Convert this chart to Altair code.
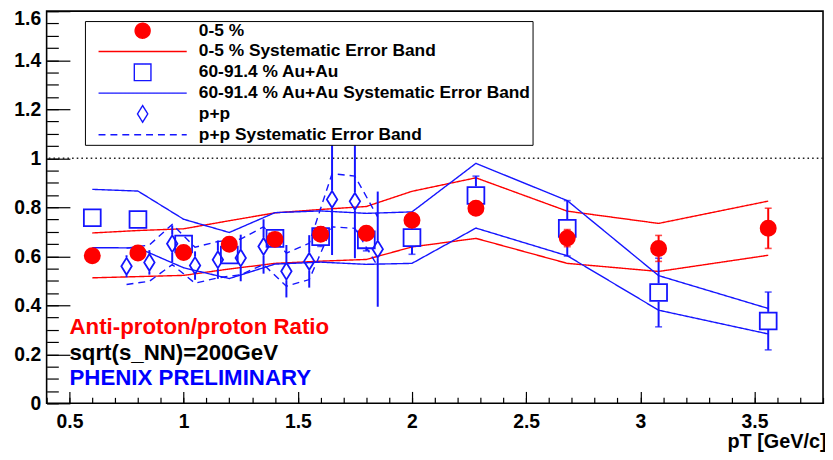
import altair as alt
import pandas as pd

# ---------------- data ----------------
pt_auau = [0.6, 0.8, 1.0, 1.2, 1.4, 1.6, 1.8, 2.0, 2.28, 2.68, 3.08, 3.56]

central_ratio = [0.602, 0.613, 0.615, 0.649, 0.669, 0.690, 0.694, 0.747, 0.796, 0.674, 0.632, 0.714]
central_err = [0.01, 0.01, 0.01, 0.012, 0.012, 0.015, 0.015, 0.02, 0.025, 0.035, 0.053, 0.082]
central_sys_hi = [0.695, 0.705, 0.712, 0.745, 0.777, 0.791, 0.803, 0.865, 0.920, 0.784, 0.734, 0.825]
central_sys_lo = [0.512, 0.517, 0.522, 0.548, 0.571, 0.580, 0.587, 0.638, 0.673, 0.571, 0.538, 0.604]

periph_ratio = [0.757, 0.750, 0.650, 0.605, 0.673, 0.680, 0.667, 0.676, 0.848, 0.714, 0.452, 0.336]
periph_err = [0.02, 0.02, 0.03, 0.03, 0.03, 0.04, 0.045, 0.068, 0.079, 0.113, 0.14, 0.118]
periph_sys_hi = [0.873, 0.866, 0.751, 0.697, 0.778, 0.785, 0.775, 0.781, 0.979, 0.827, 0.521, 0.387]
periph_sys_lo = [0.635, 0.634, 0.553, 0.509, 0.568, 0.576, 0.567, 0.571, 0.715, 0.602, 0.380, 0.283]

pt_pp = [0.75, 0.85, 0.95, 1.05, 1.15, 1.25, 1.35, 1.45, 1.55, 1.65, 1.75, 1.85]
pp_ratio = [0.559, 0.575, 0.651, 0.562, 0.586, 0.593, 0.640, 0.539, 0.579, 0.832, 0.824, 0.629]
pp_err = [0.045, 0.05, 0.075, 0.058, 0.078, 0.095, 0.111, 0.107, 0.107, 0.227, 0.232, 0.235]
pp_sys_hi = [0.633, 0.646, 0.730, 0.637, 0.660, 0.670, 0.720, 0.613, 0.653, 0.937, 0.927, 0.760]
pp_sys_lo = [0.485, 0.498, 0.566, 0.490, 0.512, 0.525, 0.566, 0.478, 0.505, 0.720, 0.714, 0.559]

series_names = [
    "0-5 %",
    "0-5 % Systematic Error Band",
    "60-91.4 % Au+Au",
    "60-91.4 % Au+Au Systematic Error Band",
    "p+p",
    "p+p Systematic Error Band",
]

unity_line = [1.0]

note_texts = ["Anti-proton/proton Ratio", "sqrt(s_NN)=200GeV", "PHENIX PRELIMINARY"]
note_x = [0.5, 0.5, 0.5]
note_y = [0.283, 0.178, 0.074]
note_colors = ["#ff0000", "#000000", "#0000ff"]

x_major_ticks = [0.5, 1.0, 1.5, 2.0, 2.5, 3.0, 3.5]
y_major_ticks = [0.0, 0.2, 0.4, 0.6, 0.8, 1.0, 1.2, 1.4, 1.6]
y_label_values = [0.0, 0.2, 0.4, 0.6, 0.8, 1.0, 1.2, 1.4]
y_top_label = [1.6]
x_minor_ticks = [round(0.4 + 0.1 * i, 2) for i in range(35)]
y_minor_ticks = [round(0.05 * i, 3) for i in range(33)]

# ---------------- styling ----------------
RED = "#ff0000"
BLUE = "#1515ff"
FONT = "Liberation Sans"
W, H = 784, 396
GAP = 0.037  # half marker height in data units (error bars stop at the marker)

# marker outlines (unit ~ half of sqrt(size))
CIRCLE_PATH = "M1.08,0A1.08,1.08,0,1,1,-1.08,0A1.08,1.08,0,1,1,1.08,0Z"
SQUARE_PATH = "M-1.2,-1.2L1.2,-1.2L1.2,1.2L-1.2,1.2Z"
DIAMOND_PATH = "M0,-1.2L0.744,0L0,1.2L-0.744,0Z"
LINE_PATH = "M-6.36,0L6.36,0"
MARKER_SIZE = 200.7
LEGEND_SYMBOL_SIZE = 196

stroke_range = [RED, RED, BLUE, BLUE, BLUE, BLUE]
fill_range = [RED, "transparent", "transparent", "transparent", "transparent", "transparent"]
shape_range = [CIRCLE_PATH, LINE_PATH, SQUARE_PATH, LINE_PATH, DIAMOND_PATH, LINE_PATH]
dash_range = [[1, 0], [1, 0], [1, 0], [1, 0], [1, 0], [7, 5]]

# ---------------- tables ----------------
band_rows = []
for name, xs, hi, lo in [
    (series_names[1], pt_auau, central_sys_hi, central_sys_lo),
    (series_names[3], pt_auau, periph_sys_hi, periph_sys_lo),
    (series_names[5], pt_pp, pp_sys_hi, pp_sys_lo),
]:
    for x, h, l in zip(xs, hi, lo):
        band_rows.append({"pt": x, "ratio": h, "edge": name + " up", "series": name})
        band_rows.append({"pt": x, "ratio": l, "edge": name + " lo", "series": name})
bands = pd.DataFrame(band_rows)

pp_df = pd.DataFrame({"pt": pt_pp, "ratio": pp_ratio, "err": pp_err, "series": series_names[4]})
periph_df = pd.DataFrame({"pt": pt_auau, "ratio": periph_ratio, "err": periph_err, "series": series_names[2]})
central_df = pd.DataFrame({"pt": pt_auau, "ratio": central_ratio, "err": central_err, "series": series_names[0]})
points = pd.concat([pp_df, periph_df, central_df], ignore_index=True)


def split_bars(df):
    rows = []
    for _, r in df.iterrows():
        if r["err"] > GAP:
            rows.append({"pt": r["pt"], "y1": r["ratio"] - r["err"], "y2": r["ratio"] - GAP})
            rows.append({"pt": r["pt"], "y1": r["ratio"] + GAP, "y2": r["ratio"] + r["err"]})
    return pd.DataFrame(rows)


blue_bars = pd.concat([split_bars(pp_df), split_bars(periph_df)], ignore_index=True)
periph_caps = pd.DataFrame(
    [{"pt": r["pt"], "y": r["ratio"] + s * r["err"]} for _, r in periph_df.iterrows() if r["err"] > GAP for s in (-1, 1)]
)
central_bars = central_df.assign(y1=central_df["ratio"] - central_df["err"], y2=central_df["ratio"] + central_df["err"])
central_caps = pd.DataFrame(
    [{"pt": r["pt"], "y": r["ratio"] + s * r["err"]} for _, r in central_df.iterrows() for s in (-1, 1)]
)
notes = pd.DataFrame({"pt": note_x, "ratio": note_y, "text": note_texts, "color": note_colors})
unity = pd.DataFrame({"ratio": unity_line})

# ---------------- scales / axes / legend ----------------
x_scale = alt.Scale(domain=[0.4, 3.8], nice=False, zero=False)
y_scale = alt.Scale(domain=[0, 1.6], nice=False, zero=False)

legend = alt.Legend(
    title=None, orient="none", legendX=38.7, legendY=10,
    strokeColor="black", fillColor="white", padding=1,
    labelFont=FONT, labelFontSize=17.5, labelFontWeight="bold", labelColor="black", labelLimit=600,
    symbolSize=LEGEND_SYMBOL_SIZE, symbolStrokeWidth=1.4, symbolOffset=48.5, labelOffset=48,
    symbolFillColor="transparent", symbolStrokeColor="black", symbolOpacity=1,
    rowPadding=0,
)

stroke_enc = alt.Stroke("series:N", scale=alt.Scale(domain=series_names, range=stroke_range), legend=legend)
fill_enc = alt.Fill("series:N", scale=alt.Scale(domain=series_names, range=fill_range), legend=legend)
shape_enc = alt.Shape("series:N", scale=alt.Scale(domain=series_names, range=shape_range), legend=legend)
dash_enc = alt.StrokeDash("series:N", scale=alt.Scale(domain=series_names, range=dash_range), legend=legend)

LABEL_STYLE = dict(labelFont=FONT, labelFontSize=19.5, labelFontWeight="bold", labelColor="black")

x_axis_main = alt.Axis(
    values=x_major_ticks, format="~g", ticks=False, domain=False, grid=False, labelFlush=False,
    labelPadding=9, **LABEL_STYLE,
    title="pT [GeV/c]", titleFont=FONT, titleFontSize=20, titleFontWeight="bold", titleColor="black",
    titleAnchor="end", titleAlign="right", titleBaseline="alphabetic", titleX=W + 3, titleY=44.5,
)
y_axis_main = alt.Axis(
    values=y_label_values, format="~g", ticks=False, domain=False, grid=False, labelFlush=False,
    labelPadding=6, title=None, **LABEL_STYLE,
)
y_axis_top_label = alt.Axis(
    orient="left", values=y_top_label, format=".1f", ticks=False, domain=False, grid=False,
    labelFlush=False, labelPadding=6, labelOffset=7, title=None, **LABEL_STYLE,
)


def tick_axis(orient, offset, values, size):
    return alt.Axis(
        orient=orient, offset=offset, values=values, tickSize=size, labels=False, domain=False,
        grid=False, title=None, tickColor="black", tickWidth=1.2,
    )


X = lambda **kw: alt.X("pt:Q", scale=x_scale, **kw)
Y = lambda f="ratio:Q", **kw: alt.Y(f, scale=y_scale, **kw)

band_layer = alt.Chart(bands).mark_line(strokeWidth=1.4).encode(
    x=X(axis=x_axis_main), y=Y(axis=y_axis_main),
    stroke=stroke_enc, strokeDash=dash_enc, detail="edge:N",
)

unity_layer = alt.Chart(unity).mark_rule(color="#222222", strokeWidth=1.4, strokeDash=[1.6, 3.1]).encode(
    y=Y(axis=None)
)

blue_bar_layer = alt.Chart(blue_bars).mark_rule(color=BLUE, strokeWidth=2).encode(
    x=X(axis=None), y=Y("y1:Q", axis=None), y2="y2:Q"
)
periph_cap_layer = alt.Chart(periph_caps).mark_tick(orient="horizontal", size=7, thickness=1.6, color=BLUE).encode(
    x=X(axis=None), y=Y("y:Q", axis=None)
)
central_bar_layer = alt.Chart(central_bars).mark_rule(color=RED, strokeWidth=2).encode(
    x=X(axis=None), y=Y("y1:Q", axis=None), y2="y2:Q"
)
central_cap_layer = alt.Chart(central_caps).mark_tick(orient="horizontal", size=7, thickness=1.6, color=RED).encode(
    x=X(axis=None), y=Y("y:Q", axis=None)
)

point_layer = alt.Chart(points).mark_point(size=MARKER_SIZE, strokeWidth=1.8, opacity=1).encode(
    x=X(axis=None), y=Y(axis=None), stroke=stroke_enc, fill=fill_enc, shape=shape_enc,
)

note_layer = alt.Chart(notes).mark_text(
    align="left", baseline="alphabetic", font=FONT, fontSize=22.5, fontWeight="bold"
).encode(x=X(axis=None), y=Y(axis=None), text="text:N", color=alt.Color("color:N", scale=None))

major_tick_layer = alt.Chart(periph_df).mark_point(opacity=0).encode(
    x=X(axis=tick_axis("top", -H, x_major_ticks, 12)),
    y=Y(axis=tick_axis("right", -W, y_major_ticks, 23.5)),
)
minor_tick_layer = alt.Chart(periph_df).mark_point(opacity=0).encode(
    x=X(axis=tick_axis("top", -H, x_minor_ticks, 6)),
    y=Y(axis=tick_axis("right", -W, y_minor_ticks, 11.8)),
)
top_label_layer = alt.Chart(periph_df).mark_point(opacity=0).encode(
    x=X(axis=None), y=Y(axis=y_axis_top_label),
)

chart = (
    alt.layer(
        band_layer, unity_layer, blue_bar_layer, periph_cap_layer, central_bar_layer,
        central_cap_layer, point_layer, note_layer, major_tick_layer, minor_tick_layer,
        top_label_layer,
    )
    .resolve_axis(x="independent", y="independent")
    .properties(
        width=W, height=H, background="white",
        autosize=alt.AutoSizeParams(type="none"),
        padding={"left": 39, "top": 1, "right": 2, "bottom": 50},
    )
    .configure_view(stroke="black", strokeWidth=1.6)
)

chart.save("out.html", embed_options={"renderer": "svg", "actions": False})
